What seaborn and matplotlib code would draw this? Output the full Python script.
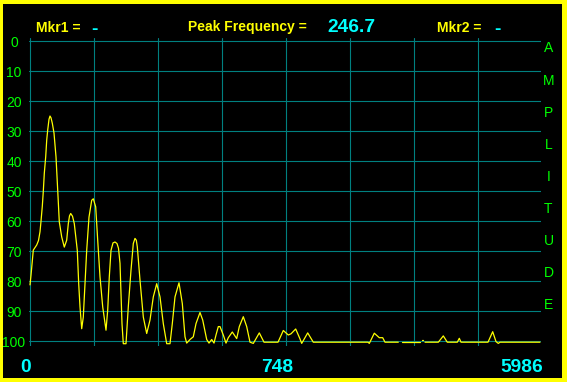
import numpy as np
import pandas as pd
import matplotlib
matplotlib.use("Agg")
import matplotlib.pyplot as plt
import seaborn as sns

# ---------------- data ----------------
freq_bin = [0, 1, 3.3, 6.7, 8.5, 10, 11, 12.3, 13.3, 14.3, 15.7, 16.7, 17.7, 19, 20,
            21, 22.3, 24, 26, 27.7, 29.3, 31.7, 34.3, 36.7, 38.3, 39.5, 40.7, 42.5,
            44.3, 47.3, 48.7, 50, 51.7, 53.3, 55, 56.7, 59, 61.7, 63.3, 65.7, 67.7,
            70, 72.7, 76, 77.7, 79.3, 81, 83, 85, 87, 88.5, 90, 92, 93.3, 96, 98.3,
            101, 103.3, 105, 106.3, 107.3, 110, 113.3, 116.7, 120, 123.3, 126.7, 130,
            133.3, 136.7, 140, 142.3, 145, 149, 152.3, 155, 156.7, 160, 163.3, 166,
            170, 172.7, 176.7, 179, 181.7, 184, 186, 188.3, 190, 193.3, 196, 198.3,
            202.3, 206.7, 209.3, 213.3, 216.7, 220, 223.3, 229.3, 234, 248, 253.3,
            258.3, 261, 265.7, 270, 271.7, 277.7, 283.3, 338, 339.3, 344.3, 349.3,
            352.7, 355, 368.3, 370, 371.7, 390, 391, 392, 393.3, 394, 395, 408.3, 410,
            413.3, 417.3, 427.3, 429.3, 431, 458, 462.7, 466, 468.3, 470, 510]
amplitude = [81.2, 78.0, 69.6, 67.9, 66.4, 63.5, 60.0, 55.0, 50.0, 44.0, 38.5, 33.0,
             29.6, 26.0, 24.9, 25.5, 27.3, 30.6, 38.5, 49.6, 60.2, 65.2, 68.6, 66.3,
             60.8, 58.2, 57.4, 58.3, 60.8, 69.7, 80.8, 88.5, 95.8, 91.9, 80.8, 69.7,
             58.6, 53.0, 52.5, 55.2, 66.3, 78.5, 88.5, 96.3, 89.6, 78.5, 69.7, 67.2,
             66.9, 67.4, 69.0, 74.0, 94.1, 100.8, 100.8, 88.5, 76.3, 67.4, 65.7, 66.3,
             68.5, 79.6, 91.9, 97.4, 92.9, 85.2, 80.8, 85.2, 94.1, 100.8, 100.8, 94.1,
             85.2, 80.5, 87.4, 98.5, 100.6, 99.4, 98.5, 94.1, 90.4, 92.9, 99.4, 100.6,
             99.4, 100.6, 97.9, 95.1, 95.1, 97.9, 100.6, 98.8, 96.9, 99.1, 95.1, 91.8,
             95.1, 100.3, 100.7, 97.2, 100.3, 100.3, 96.4, 97.9, 97.5, 95.9, 99.2,
             100.7, 97.2, 100.3, 100.3, 100.7, 97.3, 98.8, 98.8, 100.3, 100.3, np.nan,
             100.3, 100.3, np.nan, 99.6, 99.6, np.nan, 100.3, 100.3, 99.6, 98.2, 100.3,
             100.3, 99.0, 100.3, 100.3, 96.8, 100.1, 100.7, 100.3, 100.3]

amp_ticks = [0, 10, 20, 30, 40, 50, 60, 70, 80, 90, 100]
freq_grid = [0, 64, 128, 192, 256, 320, 384, 448]
freq_labels = ["0", "748", "5986"]
side_label = "AMPLITUDE"
mkr1_value = "-"
mkr2_value = "-"
peak_value = "246.7"

# ---------------- styling ----------------
W, H = 567, 382
YELLOW = "#FFFF00"
CYAN = "#00FFFF"
GREEN = "#00FF00"
TEAL = "#008080"
FONT = ["Liberation Sans", "DejaVu Sans"]

sns.set_style("dark")
plt.rcParams["font.family"] = FONT

fig = plt.figure(figsize=(W / 100, H / 100), dpi=100, facecolor=YELLOW)

# black inner panel inside yellow frame
bg = fig.add_axes([3.3 / W, 4.0 / H, (561.7 - 3.3) / W, (378.3 - 4.0) / H])
bg.set_facecolor("black")
bg.set_xticks([]); bg.set_yticks([])
for s in bg.spines.values():
    s.set_visible(False)

def px(x, y):
    return x / W, 1 - y / H

# plot axes: x -1 -> 29px, 511 -> 541px ; y -1 -> 38.3px, 101.5 -> 345.8px
ax = fig.add_axes([29 / W, (H - 345.8) / H, 512 / W, (345.8 - 38.3) / H])
ax.set_facecolor("none")

df = pd.DataFrame({"freq": freq_bin, "amp": amplitude})
df["seg"] = df["amp"].isna().cumsum()
df = df.dropna()
sns.lineplot(data=df, x="freq", y="amp", units="seg", estimator=None,
             color=YELLOW, linewidth=0.9, ax=ax, legend=False, zorder=3)

ax.set_xlim(-1, 511)
ax.set_ylim(101.5, -1)
ax.set_xticks(freq_grid)
ax.set_yticks(amp_ticks)
ax.set_xticklabels([])
ax.set_yticklabels([str(t) for t in amp_ticks], color=GREEN, fontsize=10,
                   ha="center")
ax.tick_params(axis="y", length=0, pad=10.8)
ax.tick_params(axis="x", length=0)
ax.grid(True, color=TEAL, linewidth=0.8)
ax.set_xlabel(""); ax.set_ylabel("")
for s in ax.spines.values():
    s.set_visible(False)

# header texts
hdr = dict(transform=fig.transFigure, va="baseline", ha="center")
fig.text(*px(58.2, 31.5), "Mkr1 =", color=YELLOW, fontsize=10, fontweight="bold", **hdr)
fig.text(*px(94.2, 33.5), mkr1_value, color=CYAN, fontsize=13.8, fontweight="bold", **hdr)
fig.text(*px(247.5, 31.5), "Peak Frequency =", color=YELLOW, fontsize=10, fontweight="bold", **hdr)
fig.text(*px(351, 31.7), peak_value, color=CYAN, fontsize=13.8, fontweight="bold", **hdr)
fig.text(*px(458.8, 31.5), "Mkr2 =", color=YELLOW, fontsize=10, fontweight="bold", **hdr)
fig.text(*px(497, 33.5), mkr2_value, color=CYAN, fontsize=13.8, fontweight="bold", **hdr)

# bottom frequency labels
for lab, xc in zip(freq_labels, [25.3, 277.5, 521.3]):
    fig.text(*px(xc, 372.5), lab, color=CYAN, fontsize=13.8, fontweight="bold", **hdr)

# vertical AMPLITUDE letters
for i, ch in enumerate(side_label):
    fig.text(*px(548.5, 48.5 + i * 32.05), ch, color=GREEN, fontsize=10,
             ha="center", va="center", transform=fig.transFigure)

fig.savefig("out.png", dpi=100, facecolor=YELLOW)
